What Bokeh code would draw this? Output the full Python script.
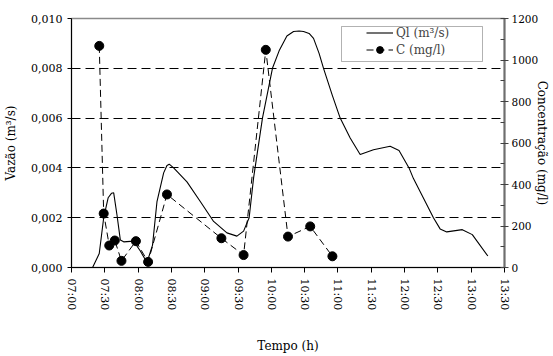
import math
from bokeh.plotting import figure
from bokeh.models import (Range1d, LinearAxis, FixedTicker, Legend, LegendItem,
                          BoxAnnotation)
from bokeh.embed import file_html
from bokeh.resources import INLINE

# ---------------- data ----------------
ql_time = ["07:19", "07:25", "07:29", "07:33", "07:36", "07:38", "07:41", "07:44",
           "07:47", "07:56", "08:02", "08:08", "08:13", "08:17", "08:23", "08:26",
           "08:28", "08:32", "08:44", "08:56", "09:08", "09:20", "09:29", "09:35",
           "09:40", "09:44", "09:52", "10:01", "10:07", "10:14", "10:20", "10:25",
           "10:29", "10:34", "10:38", "10:43", "10:47", "10:55", "11:02", "11:11",
           "11:20", "11:32", "11:47", "11:55", "12:04", "12:08", "12:26", "12:32",
           "12:38", "12:52", "13:01", "13:15"]
ql_value = [0.0000, 0.00056, 0.0020, 0.0028, 0.00298, 0.0030, 0.0021, 0.0011,
            0.00103, 0.00106, 0.00066, 0.0002, 0.0009, 0.00265, 0.0038, 0.0041,
            0.00415, 0.0040, 0.00344, 0.00265, 0.00185, 0.00139, 0.00126, 0.00146,
            0.0020, 0.0036, 0.0060, 0.0080, 0.0087, 0.0093, 0.00948, 0.0095,
            0.00948, 0.0094, 0.0092, 0.0086, 0.0080, 0.0069, 0.0060, 0.0052,
            0.00454, 0.00473, 0.00487, 0.0047, 0.0040, 0.00357, 0.0020, 0.00155,
            0.00143, 0.00152, 0.00132, 0.00046]

c_time = ["07:25", "07:29", "07:34", "07:39", "07:45", "07:58", "08:09", "08:26",
          "09:15", "09:35", "09:55", "10:15", "10:35", "10:55"]
c_value = [1068, 260, 106, 130, 32, 127, 27, 352, 141, 60, 1049, 149, 198, 54]

x_tick_labels = ["07:00", "07:30", "08:00", "08:30", "09:00", "09:30", "10:00",
                 "10:30", "11:00", "11:30", "12:00", "12:30", "13:00", "13:30"]
y_left_ticks = [0.000, 0.002, 0.004, 0.006, 0.008, 0.010]
y_left_labels = ["0,000", "0,002", "0,004", "0,006", "0,008", "0,010"]
y_right_ticks = [0, 200, 400, 600, 800, 1000, 1200]
y_right_minor = [100, 300, 500, 700, 900, 1100]


def hours(t):
    h, m = t.split(":")
    return int(h) + int(m) / 60.0


ql_x = [hours(t) for t in ql_time]
c_x = [hours(t) for t in c_time]
x_ticks = [hours(t) for t in x_tick_labels]

FONT = "DejaVu Serif"

p = figure(width=553, height=356, output_backend="svg", toolbar_location=None,
           x_range=Range1d(x_ticks[0], x_ticks[-1]),
           y_range=Range1d(y_left_ticks[0], y_left_ticks[-1]),
           min_border_left=71, min_border_right=49, min_border_top=18,
           min_border_bottom=86)
p.extra_y_ranges = {"c": Range1d(y_right_ticks[0], y_right_ticks[-1])}

p.background_fill_color = "white"
p.border_fill_color = "white"
p.outline_line_color = "#8a8a8a"
p.outline_line_width = 1.5

# grid
p.xgrid.visible = False
p.ygrid.ticker = FixedTicker(ticks=y_left_ticks[1:-1])
p.ygrid.grid_line_color = "black"
p.ygrid.grid_line_dash = "9 5"
p.ygrid.grid_line_width = 1

# axes
xa = p.xaxis[0]
xa.ticker = FixedTicker(ticks=x_ticks)
xa.major_label_overrides = {x: l for x, l in zip(x_ticks, x_tick_labels)}
xa.major_label_orientation = "vertical"
xa.axis_label = "Tempo (h)"
xa.axis_label_standoff = 26
xa.minor_tick_line_color = None
xa.major_tick_in = 0
xa.major_tick_out = 5
xa.major_label_standoff = 6

ya = p.yaxis[0]
ya.ticker = FixedTicker(ticks=y_left_ticks)
ya.major_label_overrides = {v: l for v, l in zip(y_left_ticks, y_left_labels)}
ya.axis_label = "Vazão (m³/s)"
ya.axis_label_standoff = 10
ya.minor_tick_line_color = None
ya.major_tick_in = 0
ya.major_tick_out = 4
ya.major_label_standoff = 5

ra = LinearAxis(y_range_name="c",
                ticker=FixedTicker(ticks=y_right_ticks, minor_ticks=y_right_minor))
ra.axis_line_color = "#6e6e6e"
ra.axis_line_width = 2
ra.major_tick_line_color = "#404040"
ra.minor_tick_line_color = "#404040"
ra.major_tick_in = 4
ra.major_tick_out = 4
ra.minor_tick_in = 4
ra.minor_tick_out = 0
ra.major_label_standoff = 3
ra.axis_label = "Concentração (mg/l)"
ra.axis_label_standoff = -6
ra.axis_label_orientation = "vertical"
p.add_layout(ra, "right")

for ax in (xa, ya, ra):
    ax.major_label_text_font = FONT
    ax.major_label_text_font_size = "11px"
    ax.major_label_text_color = "black"
    ax.axis_label_text_font = FONT
    ax.axis_label_text_font_size = "12px"
    ax.axis_label_text_font_style = "normal"
    ax.axis_label_text_color = "black"
ra.major_label_text_font_size = "10.5px"
for ax in (xa, ya):
    ax.axis_line_color = "black"
    ax.major_tick_line_color = "black"

# series
ql_line = p.line(ql_x, ql_value, line_color="black", line_width=1.1)
c_line = p.line(c_x, c_value, y_range_name="c", line_color="black",
                line_width=1, line_dash="7 4")
c_pts = p.scatter(c_x, c_value, y_range_name="c", size=9, marker="circle",
                  fill_color="black", line_color="black")

# legend frame + legend
p.add_layout(BoxAnnotation(left=341, right=482, top=26, bottom=61,
                           left_units="canvas", right_units="canvas",
                           top_units="canvas", bottom_units="canvas",
                           fill_color="white", fill_alpha=1,
                           line_color="black", line_width=1))
legend = Legend(items=[LegendItem(label="Ql (m³/s)", renderers=[ql_line]),
                       LegendItem(label="C (mg/l)", renderers=[c_line, c_pts])],
                location=(295, 209), border_line_alpha=0, background_fill_alpha=0,
                padding=0, spacing=0, margin=0, glyph_width=27, glyph_height=17,
                label_height=17, label_standoff=3, label_text_font=FONT,
                label_text_font_size="12px")
p.add_layout(legend)

open("out.html", "w").write(file_html(p, INLINE))
